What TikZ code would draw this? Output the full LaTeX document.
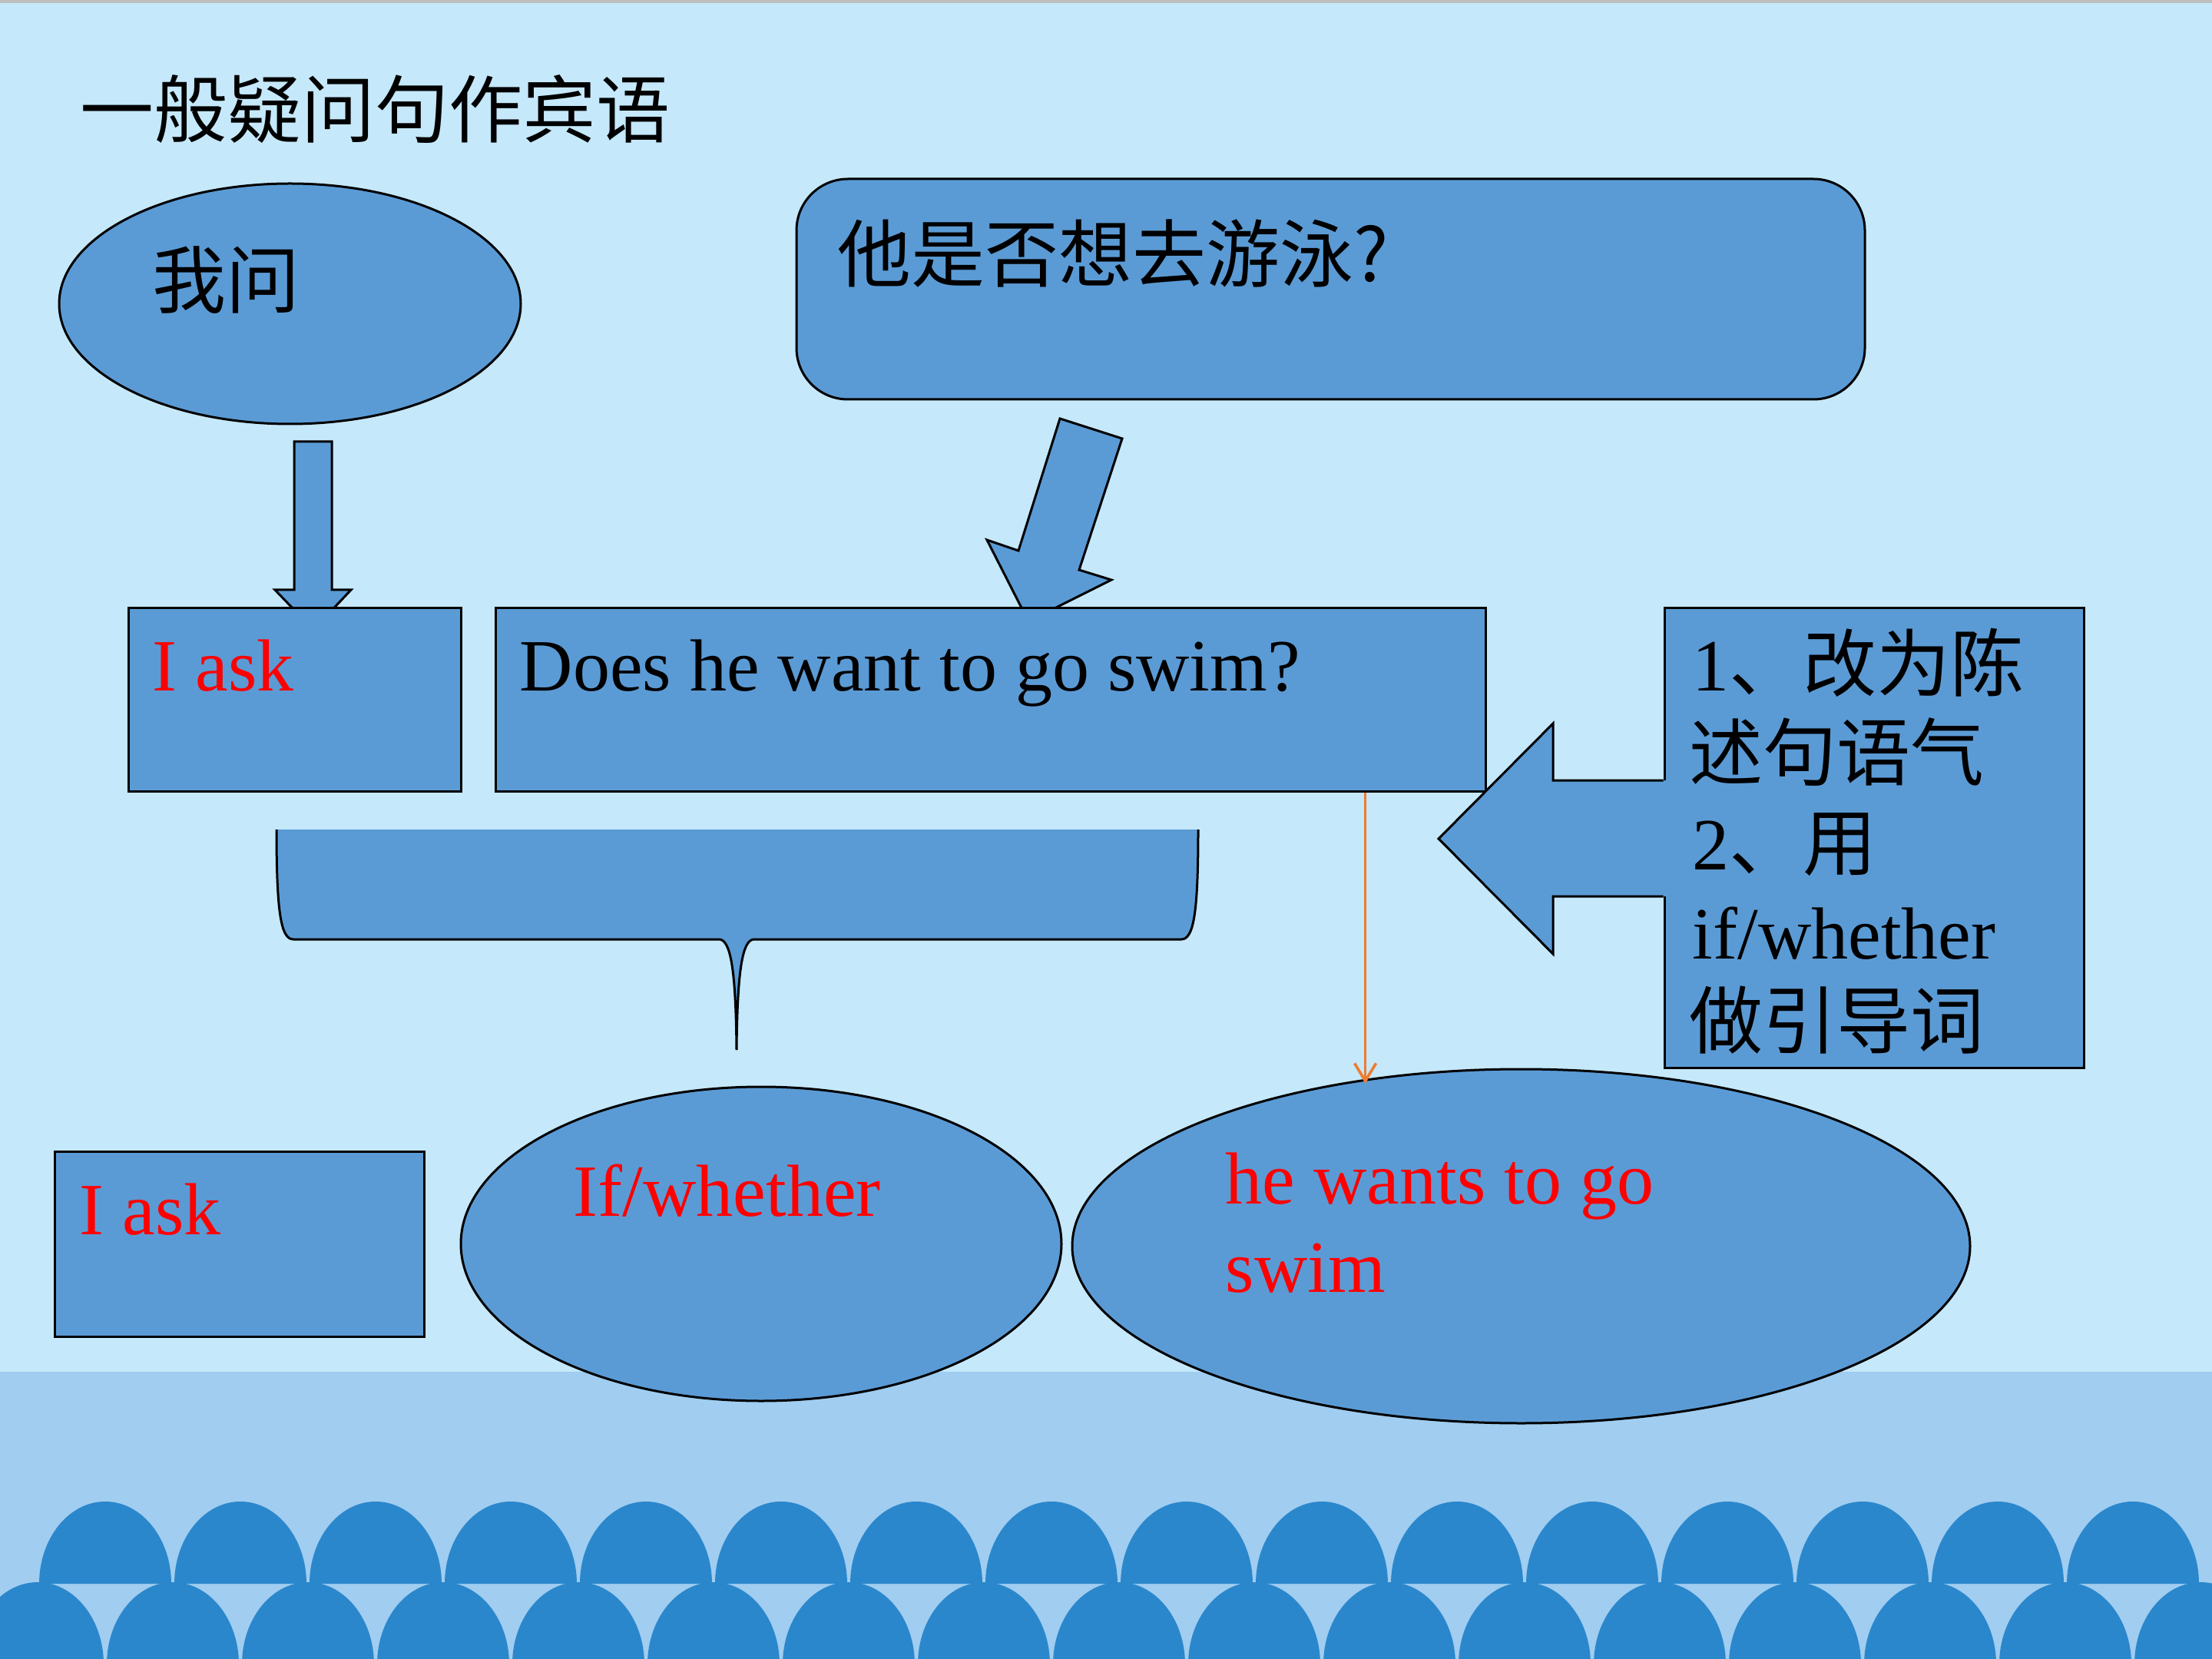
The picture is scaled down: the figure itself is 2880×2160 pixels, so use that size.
\documentclass[tikz,border=0pt]{standalone}
\usepackage{fontspec}
\setmainfont{Liberation Serif}
\newfontfamily\cjk{Noto Sans CJK SC}
\usetikzlibrary{shapes.geometric,arrows.meta}
\definecolor{bgtop}{RGB}{197,232,250}
\definecolor{bgband}{RGB}{160,205,240}
\definecolor{wave}{RGB}{43,135,204}
\definecolor{shapefill}{RGB}{91,155,213}
\definecolor{arroworange}{RGB}{237,125,49}
\definecolor{txtred}{RGB}{255,0,0}
\tikzset{
  shp/.style={fill=shapefill, draw=black, line width=0.75pt},
  boxnode/.style={shp, rectangle, inner sep=0pt},
  ellnode/.style={shp, ellipse, inner sep=0pt},
  txt/.style={anchor=base west, inner sep=0pt, font=\fontsize{24}{29}\selectfont},
  redtxt/.style={txt, text=txtred},
  outline/.style={draw=black, line width=0.75pt},
}
\begin{document}
\begin{tikzpicture}[x=0.25pt, y=-0.25pt]
\useasboundingbox (0,0) rectangle (2880,2160);
% background
\fill[bgtop] (0,0) rectangle (2880,1786);
\fill[bgband] (0,1786) rectangle (2880,2160);
\fill[black!25] (0,0) rectangle (2880,4);
% waves
\begin{scope}
\clip (0,0) rectangle (2880,2160);
\foreach \k in {0,...,15} {
  \pgfmathsetmacro{\cx}{137+176*\k}
  \fill[wave] ({\cx-86},2062) .. controls ({\cx-86},2003) and ({\cx-47.5},1955) .. (\cx,1955)
     .. controls ({\cx+47.5},1955) and ({\cx+86},2003) .. ({\cx+86},2062) -- cycle;
}
\foreach \k in {0,...,16} {
  \pgfmathsetmacro{\cx}{49+176*\k}
  \fill[wave] ({\cx-86},2167) .. controls ({\cx-86},2108) and ({\cx-47.5},2060) .. (\cx,2060)
     .. controls ({\cx+47.5},2060) and ({\cx+86},2108) .. ({\cx+86},2167) -- cycle;
}
\end{scope}

% block arrows hidden partly behind boxes
\draw[shp] (383,575) -- (432,575) -- (432,768) -- (457,768) -- (408,820) -- (358,768) -- (383,768) -- cycle;
\draw[shp] (1380,545) -- (1461,571) -- (1405,742) -- (1447,755) -- (1339,809) -- (1285,703) -- (1326,717) -- cycle;

% top shapes
\node[ellnode, minimum width=150.25pt, minimum height=78.25pt] (wowen) at (377.5,395.5) {};
\node[boxnode, rounded corners=16.75pt, minimum width=347.75pt, minimum height=71.75pt] (ta) at (1732.5,376.5) {};

% middle boxes
\node[boxnode, minimum width=108.25pt, minimum height=59.5pt] (iask1) at (383.5,911) {};
\node[boxnode, minimum width=322.25pt, minimum height=59.5pt] (does) at (1289.5,911) {};
\node[boxnode, minimum width=136.5pt, minimum height=149.5pt] (rule) at (2440,1091) {};

% left block arrow out of the rule box
\fill[shapefill] (2171,1016) -- (2022,1016) -- (2022,942) -- (1873,1092) -- (2022,1242) -- (2022,1167) -- (2171,1167) -- cycle;
\draw[outline] (rule.west |- 0,1016) -- (2022,1016) -- (2022,942) -- (1873,1092) -- (2022,1242) -- (2022,1167) -- (rule.west |- 0,1167);

% brace
\fill[shapefill] (360,1080) .. controls (360,1190) and (366,1223) .. (382,1223) -- (937,1223)
  .. controls (951,1225) and (958,1260) .. (959,1367) .. controls (960,1260) and (967,1225) .. (981,1223)
  -- (1538,1223) .. controls (1554,1223) and (1560,1190) .. (1560,1080) -- cycle;
\draw[outline] (360,1080) .. controls (360,1190) and (366,1223) .. (382,1223) -- (937,1223)
  .. controls (951,1225) and (958,1260) .. (959,1367) .. controls (960,1260) and (967,1225) .. (981,1223)
  -- (1538,1223) .. controls (1554,1223) and (1560,1190) .. (1560,1080);

% bottom shapes
\node[boxnode, minimum width=120.25pt, minimum height=60.25pt] (iask2) at (311.5,1619.5) {};
\node[ellnode, minimum width=195.5pt, minimum height=102.25pt] (ifw) at (991,1619.5) {};
\node[ellnode, minimum width=292.25pt, minimum height=115.25pt] (he) at (1980.5,1622.5) {};

% orange connector
\draw[arroworange, line width=0.9pt, -{Straight Barb[length=5.75pt,width=7pt]}, shorten >=-1.5pt]
  (does.south -| he.133.6) -- (he.133.6);

% texts
\node[txt] (title) at (104,179) {\cjk 一般疑问句作宾语};
\node[txt] (t-wowen) at (198,401) {\cjk 我问};
\node[txt] (t-ta) at (1090,367) {\cjk 他是否想去游泳?};
\node[redtxt] (t-iask1) at (198,900) {I ask};
\node[txt] (t-does) at (676,900) {Does he want to go swim?};
\node[txt] (r1) at (2203,900) {1{\cjk 、改为陈}};
\node[txt] (r2) at (2199,1016) {\cjk 述句语气};
\node[txt] (r3) at (2203,1132) {2{\cjk 、用}};
\node[txt] (r4) at (2203,1248) {if/whether};
\node[txt] (r5) at (2199,1364) {\cjk 做引导词};
\node[redtxt] (t-iask2) at (103,1607) {I ask};
\node[redtxt] (t-ifw) at (746,1583) {If/whether};
\node[redtxt] (t-he1) at (1595,1567) {he wants to go};
\node[redtxt] (t-he2) at (1595,1682) {swim};
\end{tikzpicture}
\end{document}
